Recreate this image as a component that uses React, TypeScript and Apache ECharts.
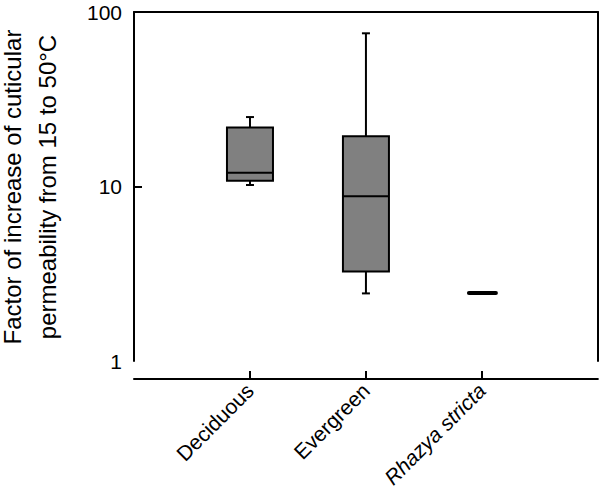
import React, { useEffect, useRef } from "react";
import * as echarts from "echarts";

const categories = ["Deciduous", "Evergreen", "Rhazya stricta"];
const italicCategories = ["Rhazya stricta"];
const whiskerLow = [10.2, 2.44, 2.45];
const quartile1 = [10.8, 3.26, 2.45];
const median = [11.97, 8.8, 2.45];
const quartile3 = [21.8, 19.4, 2.45];
const whiskerHigh = [25.0, 75.5, 2.45];
const yTicks = [1, 10, 100];
const yTickMarks = [10];
const yTitle = ["Factor of increase of cuticular", "permeability from 15 to 50°C"];

const FONT = "'Liberation Sans', Arial, Helvetica, sans-serif";

export default function App() {
  const ref = useRef<HTMLDivElement>(null);
  useEffect(() => {
    if (!ref.current) return;
    document.body.style.margin = "0";
    const chart = echarts.init(ref.current, undefined, { renderer: "svg" });
    const axisData: any[] = [""].concat(categories).concat([""]).map((c) =>
      italicCategories.includes(c) ? { value: c, textStyle: { fontStyle: "italic" } } : c
    );
    const seriesData = categories.map((c, i) => [
      c,
      whiskerLow[i],
      quartile1[i],
      median[i],
      quartile3[i],
      whiskerHigh[i],
    ]);
    const boxW = 46;
    const capW = 8;
    const lineStyle = { stroke: "#000", lineWidth: 2 };
    chart.setOption({
      animation: false,
      grid: { left: 134, right: 1, top: 12, bottom: 140, containLabel: false },
      xAxis: [
        {
          type: "category",
          data: axisData,
          boundaryGap: false,
          offset: 18,
          axisLine: { show: true, onZero: false, lineStyle: { color: "#000", width: 2 } },
          axisTick: {
            show: true,
            inside: true,
            length: 8,
            lineStyle: { color: "#000", width: 2 },
            interval: (idx: number, val: string) => val !== "",
          },
          axisLabel: {
            rotate: 45,
            margin: 8,
            color: "#000",
            fontSize: 21,
            fontFamily: FONT,
            interval: 0,
          },
          splitLine: { show: false },
        },
        {
          type: "value",
          position: "top",
          min: 0,
          max: 1,
          axisLine: { show: true, onZero: false, lineStyle: { color: "#000", width: 2 } },
          axisTick: { show: false },
          axisLabel: { show: false },
          splitLine: { show: false },
        },
      ],
      yAxis: [
        {
          type: "log",
          logBase: 10,
          min: 1,
          max: 100,
          axisLine: { show: true, onZero: false, lineStyle: { color: "#000", width: 2 } },
          axisTick: {
            show: true,
            inside: true,
            length: 8,
            customValues: yTickMarks,
            lineStyle: { color: "#000", width: 2 },
          },
          axisLabel: {
            customValues: yTicks,
            margin: 12,
            color: "#000",
            fontSize: 21,
            fontFamily: FONT,
          },
          splitLine: { show: false },
          minorTick: { show: false },
        },
        {
          type: "value",
          position: "right",
          min: 0,
          max: 1,
          axisLine: { show: true, onZero: false, lineStyle: { color: "#000", width: 2 } },
          axisTick: { show: false },
          axisLabel: { show: false },
          splitLine: { show: false },
        },
      ],
      graphic: [
        {
          type: "text",
          x: 30,
          y: 187,
          rotation: Math.PI / 2,
          style: {
            text: yTitle.join("\n"),
            fill: "#000",
            font: `24px ${FONT}`,
            lineHeight: 35,
            textAlign: "center",
            textVerticalAlign: "middle",
          },
        },
      ],
      series: [
        {
          type: "custom",
          xAxisIndex: 0,
          yAxisIndex: 0,
          encode: { x: 0, y: [1, 2, 3, 4, 5] },
          data: seriesData,
          renderItem: (params: any, api: any) => {
            const xi = api.value(0);
            const lo = api.value(1);
            const a = api.value(2);
            const m = api.value(3);
            const b = api.value(4);
            const hi = api.value(5);
            const pLo = api.coord([xi, lo]);
            const pA = api.coord([xi, a]);
            const pM = api.coord([xi, m]);
            const pB = api.coord([xi, b]);
            const pHi = api.coord([xi, hi]);
            const cx = pLo[0];
            if (lo === hi) {
              return {
                type: "rect",
                shape: { x: cx - 15, y: pM[1] - 2, width: 31, height: 4, r: 2 },
                style: { fill: "#000" },
              };
            }
            return {
              type: "group",
              children: [
                { type: "line", shape: { x1: cx, y1: pHi[1], x2: cx, y2: pB[1] }, style: lineStyle },
                { type: "line", shape: { x1: cx, y1: pA[1], x2: cx, y2: pLo[1] }, style: lineStyle },
                { type: "line", shape: { x1: cx - capW / 2, y1: pHi[1], x2: cx + capW / 2, y2: pHi[1] }, style: lineStyle },
                { type: "line", shape: { x1: cx - capW / 2, y1: pLo[1], x2: cx + capW / 2, y2: pLo[1] }, style: lineStyle },
                {
                  type: "rect",
                  shape: { x: cx - boxW / 2, y: pB[1], width: boxW, height: pA[1] - pB[1] },
                  style: { fill: "#808080", stroke: "#000", lineWidth: 2 },
                },
                { type: "line", shape: { x1: cx - boxW / 2, y1: pM[1], x2: cx + boxW / 2, y2: pM[1] }, style: lineStyle },
              ],
            };
          },
        },
      ],
    });
    return () => chart.dispose();
  }, []);
  return <div ref={ref} style={{ width: 600, height: 501 }} />;
}
